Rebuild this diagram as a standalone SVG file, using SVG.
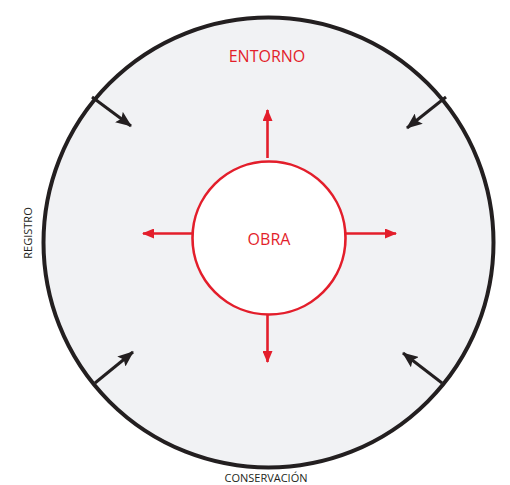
<svg xmlns="http://www.w3.org/2000/svg" width="510" height="485" viewBox="0 0 510 485">
<defs>
<style>
.red{stroke:#e31e2b;stroke-width:2.6;fill:none}
.blk{stroke:#231f20;stroke-width:3;fill:none}
.lbl{font-family:"Open Sans","Liberation Sans",sans-serif}
</style>
<marker id="ar" viewBox="0 0 12 10" refX="11" refY="5" markerWidth="12" markerHeight="10" markerUnits="userSpaceOnUse" orient="auto">
<path d="M0,0 L12,5 L0,10 Z" fill="#e31e2b"/>
</marker>
<marker id="ab" viewBox="0 0 16 13" refX="15" refY="6.5" markerWidth="16" markerHeight="13" markerUnits="userSpaceOnUse" orient="auto">
<path d="M0,0 L16,6.5 L0,13 L3,6.5 Z" fill="#231f20"/>
</marker>
</defs>
<rect width="510" height="485" fill="#ffffff"/>
<g id="entorno">
<circle cx="268.5" cy="242.5" r="225" fill="#f1f2f4" stroke="#231f20" stroke-width="4"/>
<text class="lbl" x="267" y="62" font-size="16" fill="#e31e2b" text-anchor="middle">ENTORNO</text>
</g>
<g id="obra">
<circle cx="269" cy="238" r="76.5" fill="#ffffff" stroke="#e31e2b" stroke-width="2.6"/>
<text class="lbl" x="269" y="245" font-size="16" fill="#e31e2b" text-anchor="middle">OBRA</text>
</g>
<g id="registro">
<text class="lbl" transform="translate(32,233) rotate(-90)" font-size="11" fill="#231f20" text-anchor="middle">REGISTRO</text>
</g>
<g id="conservacion">
<text class="lbl" x="266" y="482" font-size="11" fill="#231f20" text-anchor="middle">CONSERVACIÓN</text>
</g>
<g id="connectors">
<line class="red" x1="267.5" y1="158" x2="267.5" y2="110" marker-end="url(#ar)"/>
<line class="red" x1="267.5" y1="314" x2="267.5" y2="362" marker-end="url(#ar)"/>
<line class="red" x1="192" y1="233.5" x2="143" y2="233.5" marker-end="url(#ar)"/>
<line class="red" x1="346" y1="233.5" x2="396" y2="233.5" marker-end="url(#ar)"/>
<line class="blk" x1="92" y1="97" x2="131" y2="126" marker-end="url(#ab)"/>
<line class="blk" x1="446" y1="97" x2="407" y2="128" marker-end="url(#ab)"/>
<line class="blk" x1="95" y1="383" x2="133" y2="352" marker-end="url(#ab)"/>
<line class="blk" x1="442" y1="383" x2="403" y2="353" marker-end="url(#ab)"/>
</g>
</svg>
